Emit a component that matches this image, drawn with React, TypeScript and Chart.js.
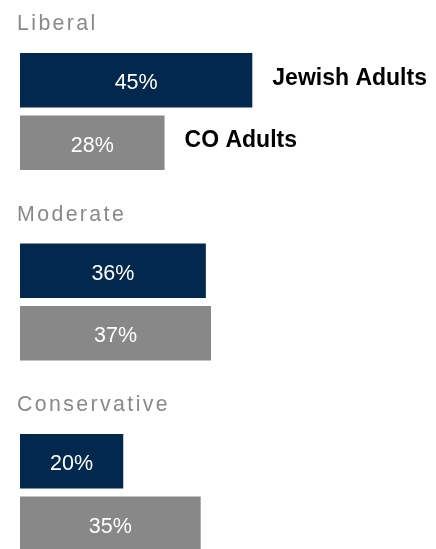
import React, { useEffect, useRef } from "react";
import { Chart, registerables } from "chart.js";

Chart.register(...registerables);

const categories = ["Liberal", "Moderate", "Conservative"];
const seriesNames = ["Jewish Adults", "CO Adults"];
const jewishAdults = [45, 36, 20];
const coAdults = [28, 37, 35];
const seriesColors = ["#03284e", "#888888"];

const FONT = "'Liberation Sans', Arial, Helvetica, sans-serif";

const labelsPlugin = {
  id: "customLabels",
  afterDatasetsDraw(chart: any) {
    const ctx = chart.ctx as CanvasRenderingContext2D;
    ctx.save();
    chart.data.datasets.forEach((ds: any, di: number) => {
      const meta = chart.getDatasetMeta(di);
      meta.data.forEach((bar: any, i: number) => {
        const v = ds.data[i];
        ctx.font = `21.5px ${FONT}`;
        ctx.fillStyle = "#ffffff";
        ctx.textAlign = "center";
        ctx.textBaseline = "middle";
        ctx.fillText(`${v}%`, (bar.base + bar.x) / 2, bar.y + 3);
        if (i === 0) {
          ctx.font = `bold 23px ${FONT}`;
          ctx.fillStyle = "#000000";
          ctx.textAlign = "left";
          ctx.fillText(seriesNames[di], bar.x + 20, bar.y - 2);
        }
      });
    });
    const first = chart.getDatasetMeta(0);
    first.data.forEach((bar: any, i: number) => {
      const top = bar.y - bar.height / 2;
      ctx.font = `21.3px ${FONT}`;
      (ctx as any).letterSpacing = "2.4px";
      ctx.fillStyle = "#898989";
      ctx.textAlign = "left";
      ctx.textBaseline = "alphabetic";
      ctx.fillText(categories[i], 9, top - 23);
      (ctx as any).letterSpacing = "0px";
    });
    ctx.restore();
  },
};

export default function App() {
  const ref = useRef<HTMLCanvasElement | null>(null);
  useEffect(() => {
    document.body.style.overflow = "hidden";
    document.documentElement.style.overflow = "hidden";
    const canvas = ref.current!;
    const chart = new Chart(canvas, {
      type: "bar",
      data: {
        labels: categories,
        datasets: [
          {
            label: seriesNames[0],
            data: jewishAdults,
            backgroundColor: seriesColors[0],
            categoryPercentage: 0.656,
            barPercentage: 0.872,
          },
          {
            label: seriesNames[1],
            data: coAdults,
            backgroundColor: seriesColors[1],
            categoryPercentage: 0.656,
            barPercentage: 0.872,
          },
        ],
      },
      options: {
        indexAxis: "y",
        responsive: false,
        animation: false,
        layout: { padding: { left: 12, right: 3, top: 8.25, bottom: 10.25 } },
        scales: {
          x: { display: false, min: 0, max: 80 },
          y: { display: false },
        },
        plugins: {
          legend: { display: false },
          tooltip: { enabled: false },
        },
      },
      plugins: [labelsPlugin],
    });
    return () => chart.destroy();
  }, []);
  return (
    <div style={{ width: 428, height: 590 }}>
      <canvas ref={ref} width={428} height={590} style={{ width: 428, height: 590, display: "block" }} />
    </div>
  );
}
